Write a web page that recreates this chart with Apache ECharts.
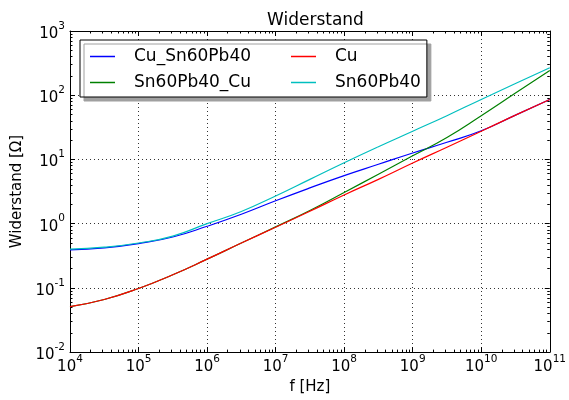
<!DOCTYPE html>
<html>
<head>
<meta charset="utf-8">
<script src="https://cdn.jsdelivr.net/npm/echarts@6/dist/echarts.min.js"></script>
<style>
  html, body { margin: 0; padding: 0; background: #fff; }
  #main { width: 569px; height: 400px; }
</style>
</head>
<body>
<div id="main"></div>
<script>
// Frequenzpunkte (Hz), halbe Dekaden
var freq = [1e4, 3.16e4, 1e5, 3.16e5, 1e6, 3.16e6, 1e7, 3.16e7, 1e8, 3.16e8, 1e9, 3.16e9, 1e10, 3.16e10, 1e11];

// Widerstand [Ohm] je Leiter
var cuSn = [0.39, 0.42, 0.49, 0.62, 0.91, 1.40, 2.27, 3.6, 5.6, 8.4, 12.6, 18.5, 28, 49, 86];
var snCu = [0.051, 0.066, 0.098, 0.16, 0.28, 0.50, 0.89, 1.6, 3.05, 5.9, 11.4, 22, 48, 108, 243];
var cu = [0.051, 0.066, 0.098, 0.16, 0.28, 0.50, 0.88, 1.56, 2.8, 4.9, 8.8, 15.5, 27.5, 49, 86];
var sn = [0.40, 0.43, 0.50, 0.64, 1.0, 1.55, 2.7, 4.9, 8.9, 15.8, 27.5, 48, 86, 152, 268];

var seriesNames = ['Cu_Sn60Pb40', 'Sn60Pb40_Cu', 'Cu', 'Sn60Pb40'];
var seriesColors = ['#0000ff', '#008000', '#ff0000', '#00bfbf'];
var seriesData = [cuSn, snCu, cu, sn];

// Achsen: Exponenten der Dekaden
var xExp = [4, 11];
var yExp = [-2, 3];

var FONT = 'DejaVu Sans';

function pairs (ys) {
  return freq.map(function (f, i) { return [f, ys[i]]; });
}

// kleine Striche bei 2..9 * 10^n (in log10)
function minorTicks (from, to) {
  var res = [];
  for (var n = from; n < to; n++) {
    for (var k = 2; k <= 9; k++) {
      res.push(n + Math.log10(k));
    }
  }
  return res;
}

function powLabel (v) {
  var e = Math.round(Math.log10(v));
  return '{b|10}{e|' + e + '}';
}

var labelRich = {
  b: { fontSize: 15, fontFamily: FONT, color: '#000', lineHeight: 21, verticalAlign: 'bottom' },
  e: { fontSize: 10.5, fontFamily: FONT, color: '#000', lineHeight: 21, verticalAlign: 'top' }
};

var myChart = echarts.init(document.getElementById('main'), null, { renderer: 'canvas' });

var gridLine = { show: true, lineStyle: { color: '#000', type: [1, 3], width: 1, opacity: 0.8 } };

function majorAxis (type, pos, exp) {
  return {
    type: 'log',
    logBase: 10,
    min: Math.pow(10, exp[0]),
    max: Math.pow(10, exp[1]),
    position: pos,
    axisLine: { onZero: false, lineStyle: { color: '#000', width: 1 } },
    axisTick: { inside: true, length: 5, lineStyle: { color: '#000' } },
    axisLabel: { show: false },
    splitLine: { show: false }
  };
}

function minorAxis (pos, exp) {
  return {
    type: 'value',
    min: exp[0],
    max: exp[1],
    position: pos,
    axisLine: { show: false, onZero: false },
    axisTick: { inside: true, length: 2.5, customValues: minorTicks(exp[0], exp[1]), lineStyle: { color: '#000' } },
    axisLabel: { show: false },
    splitLine: { show: false }
  };
}

var xMain = majorAxis('x', 'bottom', xExp);
xMain.name = 'f [Hz]';
xMain.nameLocation = 'middle';
xMain.nameGap = 26;
xMain.nameTextStyle = { fontFamily: FONT, fontSize: 15, color: '#000' };
xMain.axisLabel = { formatter: powLabel, rich: labelRich, margin: 2, interval: 0 };
xMain.splitLine = gridLine;

var yMain = majorAxis('y', 'left', yExp);
yMain.name = 'Widerstand [Ω]';
yMain.nameLocation = 'middle';
yMain.nameGap = 43;
yMain.nameTextStyle = { fontFamily: FONT, fontSize: 15, color: '#000' };
yMain.axisLabel = { formatter: powLabel, rich: labelRich, margin: 5, interval: 0 };
yMain.splitLine = gridLine;

var option = {
  animation: false,
  backgroundColor: '#fff',
  title: {
    text: 'Widerstand',
    left: 262,
    top: 7,
    textStyle: { fontFamily: FONT, fontSize: 17, fontWeight: 'normal', color: '#000' }
  },
  legend: {
    data: ['Cu_Sn60Pb40', 'Cu', 'Sn60Pb40_Cu', 'Sn60Pb40'],
    left: 80,
    top: 40,
    width: 340,
    orient: 'horizontal',
    icon: 'rect',
    itemWidth: 25,
    itemHeight: 1.5,
    itemGap: 9,
    padding: [8, 6, 6, 10],
    backgroundColor: '#fff',
    borderColor: '#000',
    borderWidth: 1,
    borderRadius: 0,
    shadowColor: '#a0a0a0',
    shadowOffsetX: 4,
    shadowOffsetY: 4,
    shadowBlur: 0,
    formatter: function (name) {
      return (name === 'Cu_Sn60Pb40' || name === 'Sn60Pb40_Cu') ? '{a|' + name + '}' : '{c|' + name + '}';
    },
    textStyle: {
      fontFamily: FONT,
      fontSize: 17,
      color: '#000',
      rich: {
        a: { fontFamily: FONT, fontSize: 17, color: '#000', width: 148, padding: [0, 0, 0, 14], lineHeight: 17 },
        c: { fontFamily: FONT, fontSize: 17, color: '#000', width: 84, padding: [0, 0, 0, 14], lineHeight: 17 }
      }
    }
  },
  grid: { left: 70, right: 14, top: 31, bottom: 47, containLabel: false },
  xAxis: [xMain, majorAxis('x', 'top', xExp), minorAxis('bottom', xExp), minorAxis('top', xExp)],
  yAxis: [yMain, majorAxis('y', 'right', yExp), minorAxis('left', yExp), minorAxis('right', yExp)],
  series: seriesNames.map(function (name, i) {
    return {
      name: name,
      type: 'line',
      xAxisIndex: 0,
      yAxisIndex: 0,
      data: pairs(seriesData[i]),
      smooth: 0.5,
      symbol: 'none',
      color: seriesColors[i],
      lineStyle: { color: seriesColors[i], width: 1.2 }
    };
  })
};

myChart.setOption(option);
</script>
</body>
</html>
